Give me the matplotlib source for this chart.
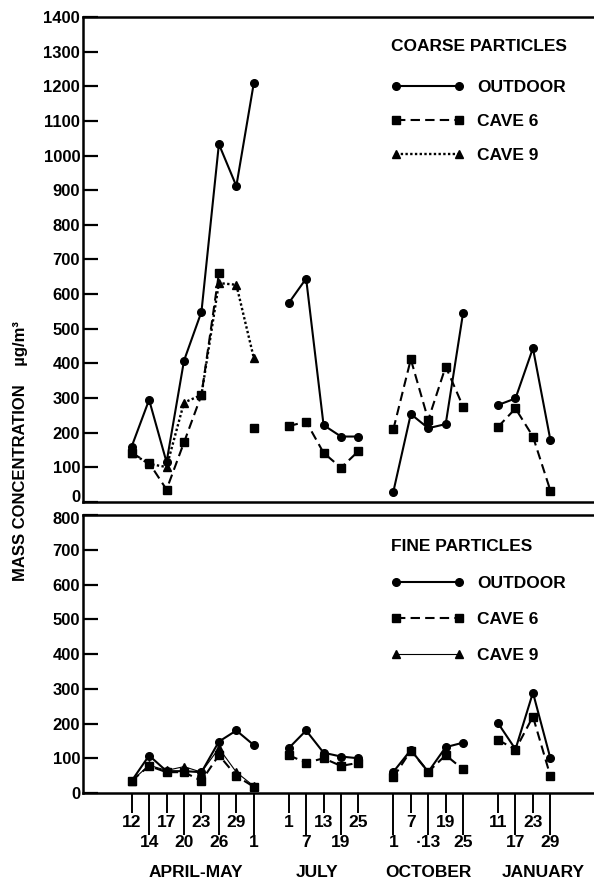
import matplotlib
matplotlib.use("Agg")
import matplotlib.pyplot as plt
import matplotlib.transforms as mtransforms
import numpy as np

plt.rcParams['font.family'] = ['Liberation Sans', 'DejaVu Sans']
plt.rcParams['font.weight'] = 'bold'

nan = np.nan

# sampling days, grouped by campaign (gap of one slot between campaigns)
months = ["APRIL-MAY", "JULY", "OCTOBER", "JANUARY"]
days = [["12", "14", "17", "20", "23", "26", "29", "1"],
        ["1", "7", "13", "19", "25"],
        ["1", "7", "\u00b713", "19", "25"],
        ["11", "17", "23", "29"]]
# which days sit on the upper label row (1) or lower row (0)
upper_row = [[1, 0, 1, 0, 1, 0, 1, 0],
             [1, 0, 1, 0, 1],
             [0, 1, 0, 1, 0],
             [1, 0, 1, 0]]

# coarse particles, ug/m3
coarse_outdoor = [160, 295, 115, 408, 549, 1033, 912, 1209,
                  574, 645, 222, 189, 189,
                  30, 254, 213, 225, 547,
                  280, 299, 444, 179]
coarse_cave6 = [141, 113, 36, 172, 309, 660, nan, 214,
                219, 232, 142, 99, 147,
                210, 412, 237, 391, 275,
                217, 270, 189, 33]
coarse_cave9 = [141, 110, 101, 287, 309, 632, 627, 416,
                nan, nan, nan, nan, nan,
                nan, nan, nan, nan, nan,
                nan, nan, nan, nan]

# fine particles, ug/m3
fine_outdoor = [35, 108, 63, 63, 60, 148, 180, 138,
                129, 180, 116, 105, 100,
                61, 124, 61, 132, 145,
                201, 126, 289, 100]
fine_cave6 = [35, 78, 60, 60, 35, 109, 49, 18,
              109, 87, 100, 78, 87,
              45, 122, 61, 109, 68,
              153, 125, 220, 49]
fine_cave9 = [35, 80, 65, 76, 60, 129, 60, 20,
              nan, nan, nan, nan, nan,
              nan, nan, nan, nan, nan,
              nan, nan, nan, nan]

# x slot of every sample: consecutive within a campaign, one empty slot between
xpos = []
groups = []
start = 0
for d in days:
    groups.append((len(xpos), len(xpos) + len(d)))
    xpos += list(range(start, start + len(d)))
    start += len(d) + 1
xpos = np.array(xpos)

FS = 12.5

fig = plt.figure(figsize=(5.94, 8.84), dpi=100)
ax1 = fig.add_axes([0.1397, 0.4321, 0.8603, 0.5487])
ax2 = fig.add_axes([0.1397, 0.1029, 0.8603, 0.3145])

styles_coarse = [
    ("OUTDOOR", coarse_outdoor, dict(ls='-', marker='o', lw=1.5)),
    ("CAVE 6", coarse_cave6, dict(ls=(0, (4.5, 2.5)), marker='s', lw=1.5)),
    ("CAVE 9", coarse_cave9, dict(ls=(0, (1, 1)), marker='^', lw=1.7)),
]
styles_fine = [
    ("OUTDOOR", fine_outdoor, dict(ls='-', marker='o', lw=1.5)),
    ("CAVE 6", fine_cave6, dict(ls=(0, (4.5, 2.5)), marker='s', lw=1.5)),
    ("CAVE 9", fine_cave9, dict(ls='-', marker='^', lw=0.8)),
]


def draw(ax, styles, title, ytop, sep, spacing):
    handles = []
    for name, vals, kw in styles:
        vals = np.array(vals, dtype=float)
        for g0, g1 in groups:
            h, = ax.plot(xpos[g0:g1], vals[g0:g1], color='black', ms=5.5,
                         clip_on=False, **kw)
        handles.append((h, name))
    leg = ax.legend([h for h, _ in handles], [n for _, n in handles],
                    title=title, loc='upper left', bbox_to_anchor=(0.603, ytop),
                    frameon=False, numpoints=2, handlelength=4.2,
                    handletextpad=0.75, labelspacing=spacing, fontsize=FS,
                    title_fontsize=FS, alignment='left', borderpad=0,
                    borderaxespad=0)
    leg.get_title().set_fontweight('bold')
    leg._legend_box.sep = sep
    for s in ['top', 'left', 'bottom']:
        ax.spines[s].set_linewidth(1.8)
    ax.spines['right'].set_visible(False)
    ax.set_xlim(-2.79, 26.5)
    ax.tick_params(axis='y', direction='in', length=11, width=1.6,
                   labelsize=FS - 0.5, pad=2)


draw(ax1, styles_coarse, "COARSE PARTICLES", 0.955, 19, 1.07)
draw(ax2, styles_fine, "FINE PARTICLES", 0.914, 16, 1.2)

ax1.set_ylim(0, 1400)
ax1.set_yticks(np.arange(0, 1500, 100))
ax1.set_xticks([])

ax2.set_ylim(0, 800)
ax2.set_yticks(np.arange(0, 900, 100))

# the "0" of the upper panel sits just above the shared boundary
fig.canvas.draw()
zero_lbl = ax1.get_yticklabels()[0]
zero_lbl.set_transform(zero_lbl.get_transform() +
                       mtransforms.ScaledTranslation(0, 4 / 72, fig.dpi_scale_trans))
top_lbl = ax2.get_yticklabels()[-1]
top_lbl.set_transform(top_lbl.get_transform() +
                      mtransforms.ScaledTranslation(0, -2 / 72, fig.dpi_scale_trans))

# day labels in two staggered rows
flat_days = [d for grp in days for d in grp]
flat_row = [r for grp in upper_row for r in grp]
up = [i for i, r in enumerate(flat_row) if r]
low = [i for i, r in enumerate(flat_row) if not r]
ax2.set_xticks(xpos[up])
ax2.set_xticklabels([flat_days[i] for i in up])
ax2.set_xticks(xpos[low], minor=True)
ax2.set_xticklabels([flat_days[i] for i in low], minor=True)
ax2.tick_params(axis='x', which='major', direction='out', length=14.5,
                width=1.4, labelsize=FS, pad=1.5)
ax2.tick_params(axis='x', which='minor', direction='out', length=30,
                width=1.4, labelsize=FS, pad=0)

month_x = [3.7, 10.6, 17.0, 23.6]
for m, mx in zip(months, month_x):
    ax2.text(mx, -0.285, m, transform=ax2.get_xaxis_transform(),
             ha='center', va='center', fontsize=FS, fontweight='bold')

fig.text(0.034, 0.49, "MASS CONCENTRATION    \u00b5g/m\u00b3", rotation=90,
         ha='center', va='center', fontsize=FS - 0.5, fontweight='bold')

fig.savefig("out.png", dpi=100)
